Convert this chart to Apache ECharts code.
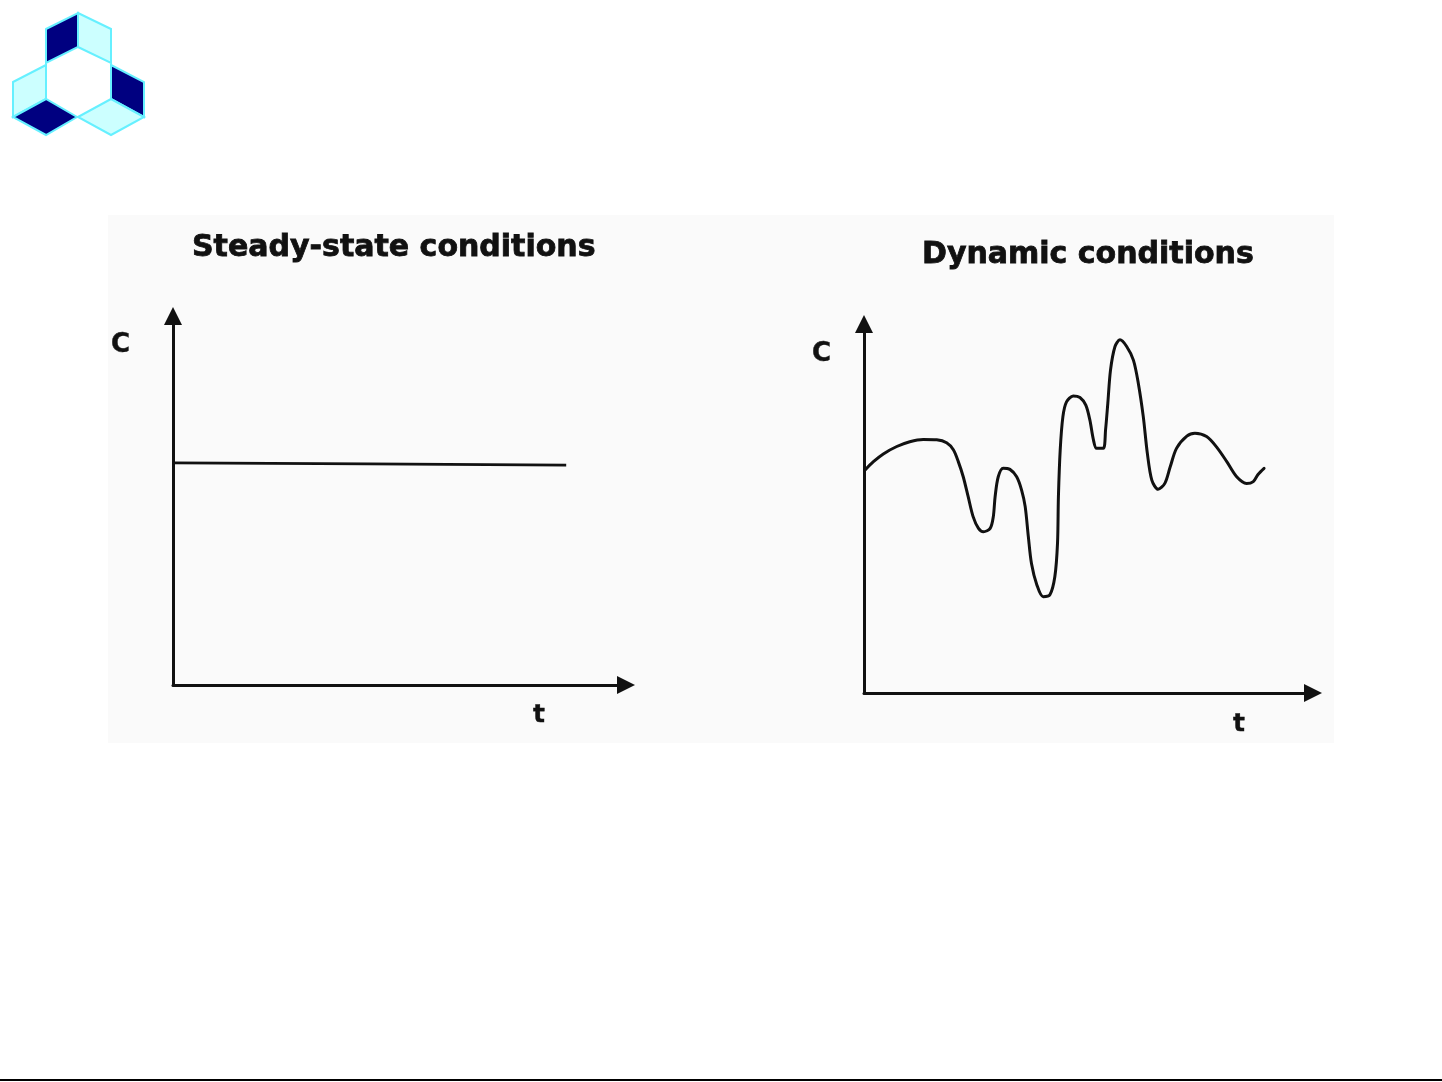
<!DOCTYPE html>
<html>
<head>
<meta charset="utf-8">
<style>
html,body{margin:0;padding:0;background:#fff;}
#chart{width:1442px;height:1082px;}
</style>
<script src="https://cdn.jsdelivr.net/npm/echarts@6/dist/echarts.min.js"></script>
</head>
<body>
<div id="chart"></div>
<script>
// Titles and axis labels
var panelTitles = ['Steady-state conditions', 'Dynamic conditions'];
var yAxisName = 'C';
var xAxisName = 't';

// Steady-state: constant concentration over time [t, C] (0-100 scale)
var steadyT = [0, 43, 86.8];
var steadyC = [60.2, 59.9, 59.6];

// Dynamic: fluctuating concentration over time [t, C] (0-100 scale)
var dynamicT = [0.2, 2.1, 4.3, 7.3, 10.2, 13.2, 16.2, 18.4, 19.9, 21.0, 22.1, 23.2, 24.3, 25.5, 26.6, 28.1, 28.8, 29.2, 29.9, 31.0,
                32.5, 34.0, 35.1, 35.9, 36.6, 37.3, 38.5, 39.9, 41.4, 42.5, 43.1, 43.3, 43.7, 44.3, 45.1, 46.6, 48.1, 49.4, 50.3, 51.1,
                51.8, 53.3, 53.8, 54.3, 54.9, 55.9, 57.0, 58.5, 60.0, 61.1, 62.2, 63.1, 64.1, 65.5, 67.0, 68.2, 69.6, 71.9, 73.7, 76.3,
                78.5, 80.8, 83.0, 85.2, 86.7, 87.8, 89.1];
var dynamicC = [60.4, 62.7, 64.8, 66.8, 68.1, 68.7, 68.6, 67.8, 65.9, 62.7, 58.6, 53.2, 47.8, 44.6, 43.7, 44.6, 47.8, 53.2, 58.6, 60.9,
                60.6, 58.6, 55.0, 50.5, 42.4, 35.1, 29.3, 26.1, 26.6, 31.5, 40.6, 53.2, 65.9, 74.9, 78.9, 80.5, 80.1, 78.0, 74.0, 68.6,
                66.3, 66.3, 71.3, 78.5, 87.5, 93.9, 95.7, 93.9, 90.2, 83.9, 74.9, 65.0, 57.7, 55.2, 56.8, 61.3, 66.3, 69.6, 70.4, 69.5,
                66.7, 62.7, 58.6, 56.8, 57.3, 59.3, 60.9];

function pairs(xs, ys) { return xs.map(function (x, i) { return [x, ys[i]]; }); }

var chart = echarts.init(document.getElementById('chart'), null, {renderer: 'canvas'});

var ink = '#111';
var titleStyle = {fontFamily: 'DejaVu Sans', fontWeight: 'bold', fontSize: 30, color: ink, textBorderColor: ink, textBorderWidth: 0.8};
function labelStyle(size) {
  return {fontFamily: 'DejaVu Sans', fontWeight: 'bold', fontSize: size, color: ink, textBorderColor: ink, textBorderWidth: 0.4};
}

function axisCommon(extra) {
  return Object.assign({
    type: 'value', min: 0, max: 100,
    axisLine: {show: true, symbol: ['none', 'triangle'], symbolSize: [18, 18], lineStyle: {color: ink, width: 3}},
    axisTick: {show: false}, axisLabel: {show: false}, splitLine: {show: false}
  }, extra);
}

var navy = '#000080', light = '#ccffff', edge = '#66f0ff';
function rhomb(points, fill) {
  return {type: 'polygon', shape: {points: points}, style: {fill: fill, stroke: edge, lineWidth: 2}, z: 10};
}

var option = {
  backgroundColor: '#ffffff',
  animation: false,
  title: [
    {text: panelTitles[0], left: 192, top: 233, padding: 0, textStyle: titleStyle},
    {text: panelTitles[1], left: 922, top: 240, padding: 0, textStyle: titleStyle},
    {text: yAxisName, left: 111, top: 332, padding: 0, textStyle: labelStyle(26)},
    {text: yAxisName, left: 812, top: 341, padding: 0, textStyle: labelStyle(26)},
    {text: xAxisName, left: 533, top: 703, padding: 0, textStyle: labelStyle(25)},
    {text: xAxisName, left: 1233, top: 712, padding: 0, textStyle: labelStyle(25)}
  ],
  grid: [
    {left: 173, top: 316, width: 453, height: 369, containLabel: false},
    {left: 864, top: 324, width: 449, height: 369, containLabel: false}
  ],
  xAxis: [axisCommon({gridIndex: 0}), axisCommon({gridIndex: 1})],
  yAxis: [axisCommon({gridIndex: 0}), axisCommon({gridIndex: 1})],
  series: [
    {type: 'line', xAxisIndex: 0, yAxisIndex: 0, data: pairs(steadyT, steadyC), symbol: 'none',
     lineStyle: {color: ink, width: 2.8}},
    {type: 'line', xAxisIndex: 1, yAxisIndex: 1, data: pairs(dynamicT, dynamicC), symbol: 'none', smooth: 0.3,
     lineStyle: {color: ink, width: 3, join: 'round', cap: 'round'}}
  ],
  graphic: [
    {type: 'rect', shape: {x: 108, y: 215, width: 1226, height: 528}, style: {fill: '#fafafa'}, z: -10},
    {type: 'rect', shape: {x: 0, y: 1079, width: 1442, height: 2}, style: {fill: '#000'}, z: 10},
    rhomb([[46,29],[78,13],[78,47],[46,63]], navy),
    rhomb([[78,13],[111,29],[111,63],[78,47]], light),
    rhomb([[111,65],[144,82],[144,117],[111,99]], navy),
    rhomb([[78,117],[111,99],[144,117],[111,135]], light),
    rhomb([[13,82],[46,65],[46,99],[13,117]], light),
    rhomb([[13,117],[46,99],[77,117],[46,135]], navy)
  ]
};
chart.setOption(option);
</script>
</body>
</html>
